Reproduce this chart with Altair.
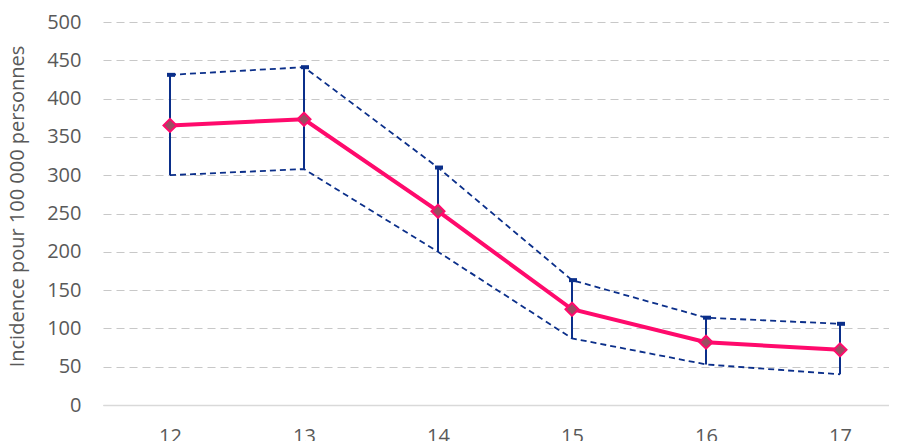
import altair as alt
import pandas as pd

ages = [12, 13, 14, 15, 16, 17]
incidence = [365, 373, 253, 125, 82, 72]
upper = [431, 441, 310, 163, 114, 106]
lower = [300, 308, 200, 87, 53, 40]

df = pd.DataFrame({"age": ages, "val": incidence, "hi": upper, "lo": lower})

PINK = "#FF0A6C"
BLUE = "#0B2F8A"
FONT = "Open Sans"
W = 786

xaxis = alt.Axis(values=ages, title=None, grid=False, ticks=False,
                 domainColor="#D9D9D9", domainWidth=1.5,
                 labelFontSize=20, labelColor="#595959", labelFont=FONT,
                 labelPadding=21, format="d", labelOverlap=False)
xscale = alt.Scale(domain=[11.5, 11.5 + W / 134], nice=False, zero=False)

yaxis = alt.Axis(values=list(range(0, 501, 50)), title="Incidence pour 100 000 personnes",
                 domain=False, ticks=False, grid=True, gridColor="#C8C8C8",
                 gridDash=[8, 5], gridWidth=1.2, labelOverlap=False,
                 labelFontSize=20, labelColor="#595959", labelFont=FONT,
                 labelPadding=22, titleFontSize=20, titleFont=FONT,
                 titleColor="#595959", titleFontWeight="normal", titlePadding=19,
                 titleY=184, titleAnchor="middle")
yscale = alt.Scale(domain=[0, 500], nice=False)


def X():
    return alt.X("age:Q", scale=xscale, axis=xaxis)


def Y(f):
    return alt.Y(f"{f}:Q", scale=yscale, axis=yaxis)


base = alt.Chart(df)

hi_line = base.mark_line(color=BLUE, strokeDash=[6, 4], strokeWidth=1.8).encode(
    x=X(), y=Y("hi"))
lo_line = base.mark_line(color=BLUE, strokeDash=[6, 4], strokeWidth=1.8).encode(
    x=X(), y=Y("lo"))

err = base.mark_rule(color=BLUE, strokeWidth=2).encode(
    x=X(), y=Y("lo"), y2="hi:Q")
cap = base.mark_rule(color=BLUE, strokeWidth=4, xOffset=-3, x2Offset=5).encode(
    x=X(), x2="age:Q", y=Y("hi"))

main_line = base.mark_line(color=PINK, strokeWidth=4).encode(x=X(), y=Y("val"))
markers = base.mark_point(shape="diamond", size=170, filled=True, fill="#9A4D62",
                          stroke=PINK, strokeWidth=2, opacity=1).encode(
    x=X(), y=Y("val"))

chart = alt.layer(hi_line, lo_line, err, cap, main_line, markers).properties(
    width=W, height=383,
    autosize=alt.AutoSizeParams(type="none"),
    padding={"left": 95, "top": 14, "right": 0, "bottom": 36},
).configure_view(stroke=None)

chart.save("out.html", embed_options={"renderer": "svg", "actions": False})
